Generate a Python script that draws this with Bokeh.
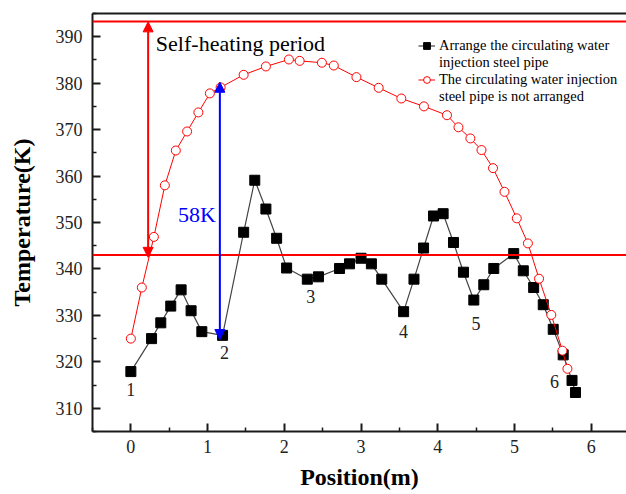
from bokeh.plotting import figure
from bokeh.models import (Arrow, NormalHead, Span, Label, LinearAxis, FixedTicker,
                          Legend, LegendItem, ColumnDataSource, Range1d)
from bokeh.core.properties import value
from bokeh.embed import file_html
from bokeh.resources import INLINE

# ---- data ----
pos_arranged = [0.0, 0.27, 0.39, 0.52, 0.655, 0.785, 0.925, 1.195, 1.47, 1.615, 1.76, 1.90,
                2.03, 2.30, 2.445, 2.72, 2.85, 3.0, 3.135, 3.27, 3.555, 3.69, 3.815, 3.945,
                4.07, 4.205, 4.335, 4.47, 4.60, 4.73, 4.99, 5.115, 5.25, 5.375, 5.505, 5.635,
                5.75, 5.795]
temp_arranged = [317.9, 325.0, 328.4, 332.0, 335.5, 331.0, 326.5, 325.7, 347.9, 359.1, 352.9, 346.6,
                 340.2, 337.8, 338.3, 340.1, 341.1, 342.3, 341.1, 337.8, 330.8, 337.8, 344.5, 351.4,
                 351.9, 345.7, 339.3, 333.3, 336.6, 340.1, 343.3, 339.6, 336.0, 332.3, 327.0, 321.5,
                 316.0, 313.4]

pos_not = [0.0, 0.143, 0.30, 0.443, 0.586, 0.733, 0.88, 1.03, 1.17, 1.47, 1.76, 2.06, 2.20,
           2.49, 2.645, 2.94, 3.23, 3.525, 3.82, 4.12, 4.27, 4.425, 4.57, 4.72, 4.87, 5.03,
           5.175, 5.32, 5.48, 5.625, 5.69]
temp_not = [325.0, 336.0, 346.9, 358.0, 365.5, 369.6, 373.7, 377.8, 379.1, 381.8, 383.6, 385.1, 384.8,
            384.4, 383.8, 381.3, 379.0, 376.7, 375.0, 373.1, 370.5, 368.1, 365.6, 361.7, 356.6, 350.9,
            345.5, 337.9, 330.1, 322.4, 318.5]

point_labels = ["1", "2", "3", "4", "5", "6"]
point_label_x = [0.0, 1.22, 2.345, 3.555, 4.50, 5.52]
point_label_y = [314.0, 322.0, 334.0, 326.5, 328.2, 315.8]

legend_lines = ["Arrange the circulating water", "injection steel pipe",
                "The circulating water injection", "steel pipe is not arranged"]

threshold_lines = [343.0, 393.3]
red_arrow = dict(x=0.225, y0=342.5, y1=393.2)
blue_arrow = dict(x=1.16, y0=324.8, y1=380.2)

x_ticks = [0, 1, 2, 3, 4, 5, 6]
x_minor = [-0.5, 0.5, 1.5, 2.5, 3.5, 4.5, 5.5, 6.5]
y_ticks = [310, 320, 330, 340, 350, 360, 370, 380, 390]
y_minor = [305, 315, 325, 335, 345, 355, 365, 375, 385, 395]
x_range = (-0.5, 6.46)
y_range = (305, 395)

FONT = "Liberation Serif"

p = figure(width=626, height=494, x_range=Range1d(*x_range), y_range=Range1d(*y_range),
           output_backend="svg", toolbar_location=None,
           min_border_left=92, min_border_right=0, min_border_top=13, min_border_bottom=63,
           x_axis_label="Position(m)", y_axis_label="Temperature(K)")
p.grid.visible = False
p.outline_line_color = None
p.background_fill_color = "white"
p.border_fill_color = "white"

p.xaxis.ticker = FixedTicker(ticks=x_ticks, minor_ticks=x_minor)
p.yaxis.ticker = FixedTicker(ticks=y_ticks, minor_ticks=y_minor)
for ax in (p.xaxis[0], p.yaxis[0]):
    ax.axis_line_width = 2
    ax.axis_line_color = "#1a1a1a"
    ax.major_tick_in = 8
    ax.major_tick_out = 0
    ax.minor_tick_in = 4
    ax.minor_tick_out = 0
    ax.major_tick_line_width = 2
    ax.minor_tick_line_width = 1.5
    ax.major_tick_line_color = "#1a1a1a"
    ax.minor_tick_line_color = "#1a1a1a"
    ax.major_label_text_font = FONT
    ax.major_label_text_font_size = "18px"
    ax.major_label_text_color = "#222222"
    ax.major_label_standoff = 10
    ax.axis_label_text_font = FONT
    ax.axis_label_text_font_size = "24px"
    ax.axis_label_text_font_style = "bold"
    ax.axis_label_text_color = "black"
p.xaxis[0].major_label_standoff = 8
p.xaxis[0].axis_label_standoff = 8
p.yaxis[0].axis_label_standoff = 18

top_axis = LinearAxis(ticker=FixedTicker(ticks=[]), axis_line_width=2, axis_line_color="#1a1a1a",
                      major_tick_line_color=None, minor_tick_line_color=None,
                      major_label_text_font_size="0px", major_label_standoff=0)
p.add_layout(top_axis, "above")

for yv in threshold_lines:
    p.add_layout(Span(location=yv, dimension="width", line_color="#ff0000", line_width=2))

p.add_layout(Arrow(x_start=red_arrow["x"], y_start=red_arrow["y0"], x_end=red_arrow["x"], y_end=red_arrow["y1"],
                   line_color="#ff0000", line_width=2,
                   start=NormalHead(size=10, fill_color="#ff0000", line_color="#ff0000"),
                   end=NormalHead(size=10, fill_color="#ff0000", line_color="#ff0000")))
p.add_layout(Arrow(x_start=blue_arrow["x"], y_start=blue_arrow["y0"], x_end=blue_arrow["x"], y_end=blue_arrow["y1"],
                   line_color="#0000ff", line_width=2,
                   start=NormalHead(size=10, fill_color="#0000ff", line_color="#0000ff"),
                   end=NormalHead(size=10, fill_color="#0000ff", line_color="#0000ff")))

src_a = ColumnDataSource(dict(x=pos_arranged, y=temp_arranged))
src_n = ColumnDataSource(dict(x=pos_not, y=temp_not))

l_a = p.line("x", "y", source=src_a, line_color="#444444", line_width=1.2)
s_a = p.scatter("x", "y", source=src_a, marker="square", size=10, fill_color="black", line_color="black")
l_n = p.line("x", "y", source=src_n, line_color="#ff0000", line_width=1)
s_n = p.scatter("x", "y", source=src_n, marker="circle", size=9, fill_color="white", line_color="#ff0000",
                line_width=1)

# invisible renderer used for continuation lines of the legend labels
blank = p.line(x=[], y=[], line_alpha=0)

src_l = ColumnDataSource(dict(x=point_label_x, y=point_label_y, t=point_labels))
p.text("x", "y", text="t", source=src_l, text_font=value(FONT), text_font_size="18px",
       text_align="center", text_baseline="middle", text_color="#222222")

p.add_layout(Label(x=0.326, y=388.6, text="Self-heating period", text_font=FONT, text_font_size="22px",
                   text_baseline="middle", text_color="black"))
p.add_layout(Label(x=1.107, y=351.8, text="58K", text_font=FONT, text_font_size="22px",
                   text_baseline="middle", text_align="right", text_color="#0000ff"))

legend = Legend(items=[
    LegendItem(label=legend_lines[0], renderers=[l_a, s_a]),
    LegendItem(label=legend_lines[1], renderers=[blank]),
    LegendItem(label=legend_lines[2], renderers=[l_n, s_n]),
    LegendItem(label=legend_lines[3], renderers=[blank]),
], location=(326, 326), label_text_font=FONT, label_text_font_size="14.5px", label_text_color="black",
    glyph_width=17, glyph_height=17, label_height=17, label_standoff=4, padding=5, spacing=0,
    border_line_color=None, background_fill_alpha=0)
p.add_layout(legend, "center")

open("out.html", "w").write(file_html(p, INLINE))
